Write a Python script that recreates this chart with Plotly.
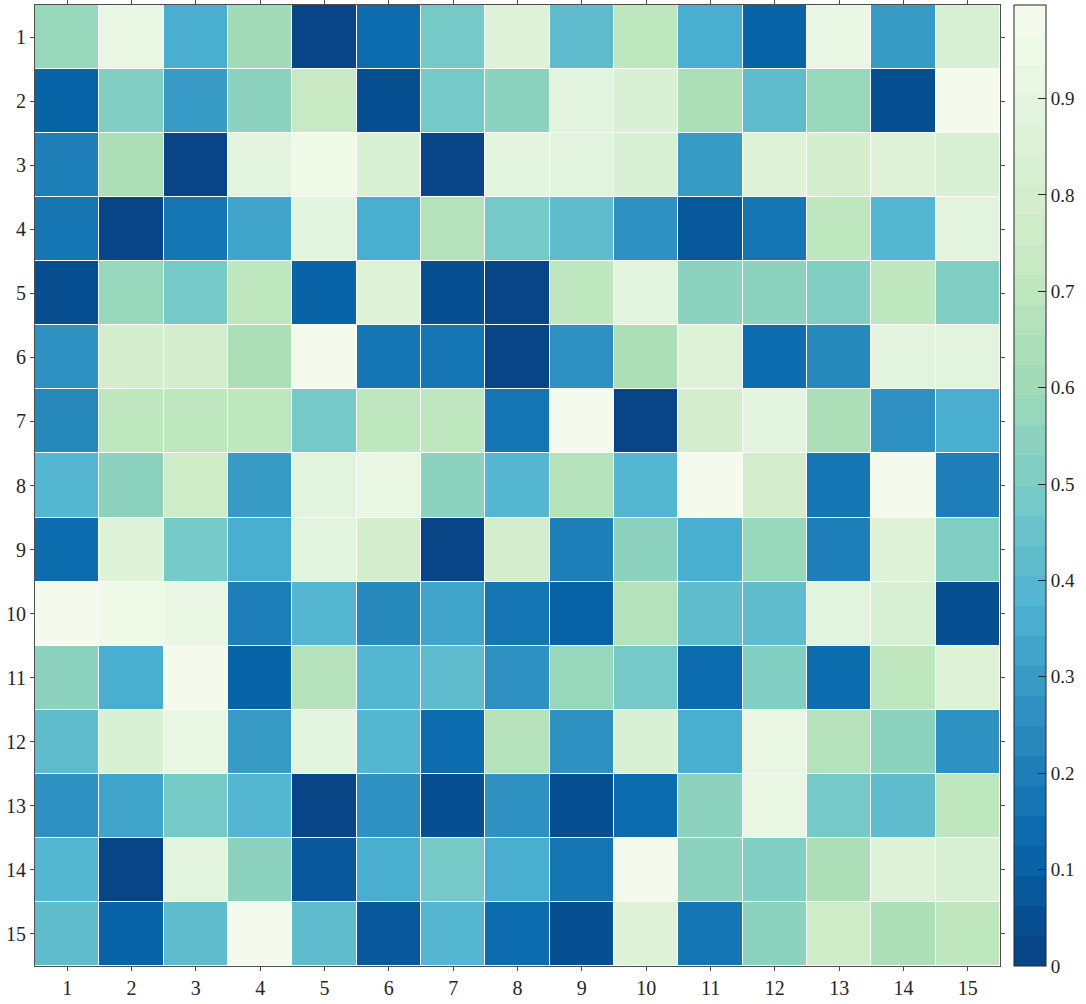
import plotly.graph_objects as go
from plotly.colors import sample_colorscale

x_labels = list(range(1, 16))
y_labels = list(range(1, 16))

row01 = [0.58, 0.92, 0.35, 0.62, 0.02, 0.13, 0.48, 0.85, 0.41, 0.70, 0.35, 0.10, 0.92, 0.31, 0.83]
row02 = [0.10, 0.51, 0.31, 0.56, 0.74, 0.05, 0.48, 0.56, 0.90, 0.84, 0.63, 0.41, 0.59, 0.05, 0.99]
row03 = [0.20, 0.63, 0.02, 0.88, 0.94, 0.84, 0.02, 0.88, 0.90, 0.84, 0.31, 0.87, 0.81, 0.87, 0.84]
row04 = [0.17, 0.02, 0.17, 0.32, 0.88, 0.35, 0.66, 0.48, 0.41, 0.27, 0.07, 0.17, 0.70, 0.38, 0.88]
row05 = [0.05, 0.59, 0.48, 0.70, 0.10, 0.86, 0.05, 0.02, 0.70, 0.90, 0.54, 0.54, 0.51, 0.70, 0.51]
row06 = [0.27, 0.80, 0.80, 0.63, 0.97, 0.17, 0.17, 0.02, 0.27, 0.63, 0.86, 0.13, 0.24, 0.90, 0.88]
row07 = [0.24, 0.70, 0.70, 0.71, 0.48, 0.70, 0.70, 0.17, 0.97, 0.02, 0.80, 0.88, 0.63, 0.27, 0.35]
row08 = [0.38, 0.54, 0.75, 0.31, 0.90, 0.91, 0.56, 0.38, 0.66, 0.38, 0.97, 0.81, 0.17, 0.99, 0.20]
row09 = [0.13, 0.86, 0.48, 0.35, 0.88, 0.80, 0.02, 0.79, 0.20, 0.56, 0.35, 0.59, 0.20, 0.86, 0.51]
row10 = [0.99, 0.96, 0.93, 0.20, 0.38, 0.24, 0.32, 0.17, 0.10, 0.66, 0.41, 0.41, 0.88, 0.84, 0.05]
row11 = [0.54, 0.35, 0.98, 0.10, 0.66, 0.38, 0.41, 0.27, 0.59, 0.48, 0.13, 0.51, 0.13, 0.70, 0.86]
row12 = [0.41, 0.84, 0.92, 0.31, 0.88, 0.38, 0.13, 0.66, 0.27, 0.84, 0.35, 0.92, 0.66, 0.56, 0.27]
row13 = [0.27, 0.32, 0.48, 0.38, 0.02, 0.27, 0.05, 0.27, 0.06, 0.13, 0.56, 0.92, 0.48, 0.41, 0.70]
row14 = [0.38, 0.02, 0.90, 0.56, 0.07, 0.35, 0.48, 0.35, 0.17, 0.98, 0.56, 0.51, 0.63, 0.86, 0.84]
row15 = [0.41, 0.10, 0.41, 0.99, 0.41, 0.07, 0.38, 0.13, 0.05, 0.86, 0.17, 0.54, 0.77, 0.63, 0.70]

z = [row01, row02, row03, row04, row05, row06, row07, row08, row09, row10,
     row11, row12, row13, row14, row15]

cbar_ticks = [0, 0.1, 0.2, 0.3, 0.4, 0.5, 0.6, 0.7, 0.8, 0.9]
cbar_ticktext = ["0", "0.1", "0.2", "0.3", "0.4", "0.5", "0.6", "0.7", "0.8", "0.9"]

# discrete 32-level reversed GnBu
n_levels = 32
base = "GnBu_r"
cols = sample_colorscale(base, [(k + 0.5) / n_levels for k in range(n_levels)])
colorscale = []
for k, c in enumerate(cols):
    colorscale.append([k / n_levels, c])
    colorscale.append([(k + 1) / n_levels, c])

font_family = "Liberation Serif"

fig = go.Figure(go.Heatmap(
    z=z, x=x_labels, y=y_labels,
    colorscale=colorscale, zmin=0, zmax=0.997,
    xgap=1, ygap=1,
    colorbar=dict(
        thickness=32, len=1, lenmode="fraction", y=0.5, yanchor="middle",
        x=1.0145, xanchor="left", xpad=0, ypad=0,
        outlinewidth=1, outlinecolor="#262626",
        ticks="inside", ticklen=8, tickcolor="#262626",
        tickvals=cbar_ticks, ticktext=cbar_ticktext,
        tickfont=dict(family=font_family, size=19, color="#262626"),
    ),
))

axis_common = dict(
    showline=True, linecolor="#4d4d4d", linewidth=1, mirror="ticks",
    ticks="outside", ticklen=4, tickcolor="#4d4d4d",
    showgrid=False, zeroline=False,
    tickfont=dict(family=font_family, size=20, color="#262626"),
    tickmode="array", automargin=False,
)

fig.update_xaxes(**axis_common, tickvals=x_labels, ticktext=[str(v) for v in x_labels],
                 range=[0.5, 15.5])
fig.update_yaxes(**axis_common, tickvals=y_labels, ticktext=[str(v) for v in y_labels],
                 range=[15.5, 0.5])

fig.update_layout(
    width=1086, height=1004,
    margin=dict(l=35, r=86, t=5, b=38, autoexpand=False),
    plot_bgcolor="white", paper_bgcolor="white",
    font=dict(family=font_family),
)

fig.write_html("out.html", config={"displayModeBar": False})
with open("out.html", "r", encoding="utf-8") as f:
    html = f.read()
html = html.replace("<body>", '<body style="margin:0;padding:0;overflow:hidden">', 1)
with open("out.html", "w", encoding="utf-8") as f:
    f.write(html)
